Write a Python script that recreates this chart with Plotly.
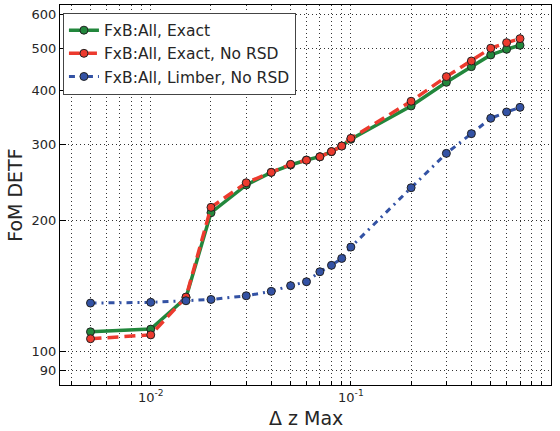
import plotly.graph_objects as go
import numpy as np

dz = [0.005, 0.01, 0.015, 0.02, 0.03, 0.04, 0.05, 0.06, 0.07, 0.08, 0.09,
      0.1, 0.2, 0.3, 0.4, 0.5, 0.6, 0.7]
exact = [110.8, 112.4, 132.8, 208.7, 241.9, 258.7, 269.0, 276.3, 281.2, 288.7,
         297.6, 308.4, 368.3, 417.7, 453.9, 483.0, 497.8, 508.6]
exact_norsd = [106.8, 109.0, 133.3, 214.8, 244.8, 258.7, 270.0, 276.0, 281.0,
               289.0, 297.6, 310.0, 377.6, 430.4, 467.8, 500.7, 515.7, 526.8]
limber_norsd = [129.1, 129.6, 130.7, 131.6, 134.2, 137.4, 141.6, 144.6, 152.5,
                157.8, 163.7, 173.9, 238.4, 286.2, 317.8, 344.9, 356.6, 365.6]

names = ["FxB:All, Exact", "FxB:All, Exact, No RSD", "FxB:All, Limber, No RSD"]
colors = ["#22873c", "#ec3a2e", "#3352a4"]

x_tickvals = [d * m for m in (0.001, 0.01, 0.1) for d in range(4 if m == 0.001 else 2, 10)] + [0.01, 0.1, 1]
x_tickvals = sorted(set([round(v, 6) for v in x_tickvals]))
major = {0.01: "10<sup>-2</sup>", 0.1: "10<sup>-1</sup>", 1.0: "10<sup>0</sup>"}
x_ticktext = [major.get(v, "") for v in x_tickvals]

y_tickvals = [90, 100, 200, 300, 400, 500, 600]
y_ticktext = [str(v) for v in y_tickvals]

fig = go.Figure()
fig.add_trace(go.Scatter(x=dz, y=exact, name=names[0], mode="lines+markers",
                         line=dict(color=colors[0], width=3.5),
                         marker=dict(size=8, color=colors[0], line=dict(color="#222222", width=1))))
fig.add_trace(go.Scatter(x=dz, y=exact_norsd, name=names[1], mode="lines+markers",
                         line=dict(color=colors[1], width=3.5, dash="11px,6px"),
                         marker=dict(size=8, color=colors[1], line=dict(color="#222222", width=1))))
fig.add_trace(go.Scatter(x=dz, y=limber_norsd, name=names[2], mode="lines+markers",
                         line=dict(color=colors[2], width=3, dash="6px,5px,2px,5px"),
                         marker=dict(size=8, color=colors[2], line=dict(color="#222222", width=1))))

fig.update_layout(
    width=560, height=431,
    margin=dict(l=60, r=9, t=5, b=46),
    paper_bgcolor="white", plot_bgcolor="white",
    font=dict(family="DejaVu Sans", color="#262626", size=13),
    showlegend=True,
    legend=dict(x=0.006, y=0.98, xanchor="left", yanchor="top",
                bordercolor="#444444", borderwidth=1, bgcolor="white",
                font=dict(size=15.5), tracegroupgap=0, itemwidth=30),
    annotations=[
        dict(text="Δ z Max", xref="paper", yref="paper", x=0.5, y=-0.087,
             xanchor="center", yanchor="middle", showarrow=False,
             font=dict(size=19)),
        dict(text="FoM DETF", xref="paper", yref="paper", x=-0.092, y=0.5,
             xanchor="center", yanchor="middle", showarrow=False, textangle=-90,
             font=dict(size=19)),
    ],
)
fig.update_xaxes(type="log", range=[np.log10(0.00352), 0],
                 tickvals=x_tickvals, ticktext=x_ticktext,
                 ticks="inside", ticklen=4, tickcolor="black",
                 showgrid=True, gridcolor="#333333", griddash="1px,3px", gridwidth=1,
                 showline=True, linecolor="black", linewidth=1, mirror=True,
                 automargin=False, zeroline=False)
fig.update_yaxes(type="log", range=[np.log10(83.5), np.log10(630)],
                 tickvals=y_tickvals, ticktext=y_ticktext,
                 ticks="inside", ticklen=6, tickcolor="black",
                 showgrid=True, gridcolor="#333333", griddash="1px,3px", gridwidth=1,
                 showline=True, linecolor="black", linewidth=1, mirror=True,
                 automargin=False, zeroline=False)

fig.write_html("out.html", config={"displayModeBar": False},
               post_script="document.body.style.margin='0';document.body.style.overflow='hidden';")
